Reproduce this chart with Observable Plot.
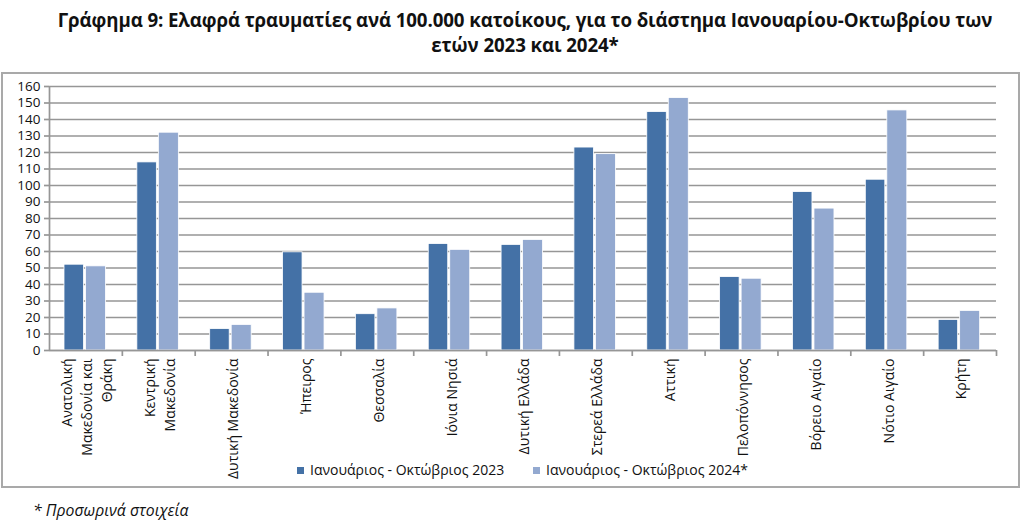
<!DOCTYPE html>
<html>
<head>
<meta charset="utf-8">
<script src="https://cdn.jsdelivr.net/npm/d3@7"></script>
<script src="https://cdn.jsdelivr.net/npm/@observablehq/plot@0.6"></script>
<style>
  html, body { margin: 0; padding: 0; background: #fff; }
  body { width: 1024px; height: 524px; position: relative; overflow: hidden; font-family: "Open Sans", sans-serif; color: #111; }
  #title { position: absolute; left: 0; top: 7px; width: 1050px; text-align: center; font-weight: bold; font-size: 18.7px; line-height: 25px; letter-spacing: -0.1px; }
  #box { position: absolute; left: 1px; top: 72px; width: 1015px; height: 412px; border: 2px solid #a9a9a9; }
  #chart { position: absolute; left: 0; top: 74px; }
  .item { position: absolute; top: 460px; font-size: 14px; white-space: nowrap; }
  .sw { display: inline-block; width: 7px; height: 7px; margin-right: 6px; vertical-align: 1px; }
  #note { position: absolute; left: 33px; top: 499px; font-style: italic; font-size: 15.8px; }
</style>
</head>
<body>
<div id="title">Γράφημα 9: Ελαφρά τραυματίες ανά 100.000 κατοίκους, για το διάστημα Ιανουαρίου-Οκτωβρίου των<br>ετών 2023 και 2024*</div>
<div id="box"></div>
<div id="chart"></div>
<div id="leg1" class="item"></div>
<div id="leg2" class="item"></div>
<div id="note">* Προσωρινά στοιχεία</div>
<script>
const categories = ["Ανατολική Μακεδονία και Θράκη", "Κεντρική Μακεδονία", "Δυτική Μακεδονία", "Ήπειρος", "Θεσσαλία", "Ιόνια Νησιά", "Δυτική Ελλάδα", "Στερεά Ελλάδα", "Αττική", "Πελοπόννησος", "Βόρειο Αιγαίο", "Νότιο Αιγαίο", "Κρήτη"];
const tickLabels = ["Ανατολική\nΜακεδονία και\nΘράκη", "Κεντρική\nΜακεδονία", "Δυτική Μακεδονία", "Ήπειρος", "Θεσσαλία", "Ιόνια Νησιά", "Δυτική Ελλάδα", "Στερεά Ελλάδα", "Αττική", "Πελοπόννησος", "Βόρειο Αιγαίο", "Νότιο Αιγαίο", "Κρήτη"];
const values2023 = [52, 114, 13, 59.5, 22, 64.5, 64, 123, 144.5, 44.5, 96, 103.5, 18.5];
const values2024 = [51, 132, 15.5, 35, 25.5, 61, 67, 119, 153, 43.5, 86, 145.5, 24];
const seriesNames = ["Ιανουάριος - Οκτώβριος 2023", "Ιανουάριος - Οκτώβριος 2024*"];
const yTicks = [0, 10, 20, 30, 40, 50, 60, 70, 80, 90, 100, 110, 120, 130, 140, 150, 160];

const colors = ["#4471a6", "#93a9d0"];
const gridColor = "#969696";

const rows = categories.map((c, i) => ({region: c, v2023: values2023[i], v2024: values2024[i]}));

const W = 1020, H = 412, mL = 49, mR = 24, mT = 12, mB = 136;
const step = (W - mL - mR) / categories.length;

const chart = Plot.plot({
  width: W,
  height: H,
  marginLeft: mL,
  marginRight: mR,
  marginTop: mT,
  marginBottom: mB,
  style: {fontFamily: "Open Sans, sans-serif", fontSize: "13.5px", color: "#111", background: "transparent"},
  x: {domain: categories, padding: 0, round: false},
  y: {domain: [0, 160]},
  marks: [
    Plot.gridY(yTicks, {stroke: gridColor, strokeOpacity: 1, strokeWidth: 1.7}),
    Plot.barY(rows, {x: "region", y: "v2023", fill: colors[0], insetLeft: 15, insetRight: step - 34.5, stroke: "#fff", strokeWidth: 0.8}),
    Plot.barY(rows, {x: "region", y: "v2024", fill: colors[1], insetLeft: 36.5, insetRight: step - 56.5, stroke: "#fff", strokeWidth: 0.8}),
    Plot.ruleY([0], {stroke: gridColor, strokeWidth: 1.7}),
    Plot.ruleX([categories[0]], {x: d => d, dx: -step / 2, y1: 0, y2: 160, stroke: gridColor, strokeWidth: 1.7}),
    Plot.ruleX(categories, {x: d => d, dx: step / 2, y1: 0, y2: 0, insetBottom: -6, stroke: gridColor, strokeWidth: 1.7}),
    Plot.axisY(yTicks, {tickSize: 5, tickPadding: 4, stroke: gridColor, strokeWidth: 1.7, label: null, fill: "#111"}),
    Plot.axisX({tickSize: 0, tickRotate: -90, tickPadding: 8, textAnchor: "end", lineAnchor: "middle", lineHeight: 1.42, fontSize: 14, label: null, fill: "#111",
      tickFormat: d => tickLabels[categories.indexOf(d)]})
  ]
});
document.getElementById("chart").appendChild(chart);

const leg = [["leg1", 297], ["leg2", 533]];
leg.forEach(([id, left], i) => {
  const el = document.getElementById(id);
  el.style.left = left + "px";
  const sw = document.createElement("span");
  sw.className = "sw";
  sw.style.background = colors[i];
  el.appendChild(sw);
  el.appendChild(document.createTextNode(seriesNames[i]));
});
</script>
</body>
</html>
